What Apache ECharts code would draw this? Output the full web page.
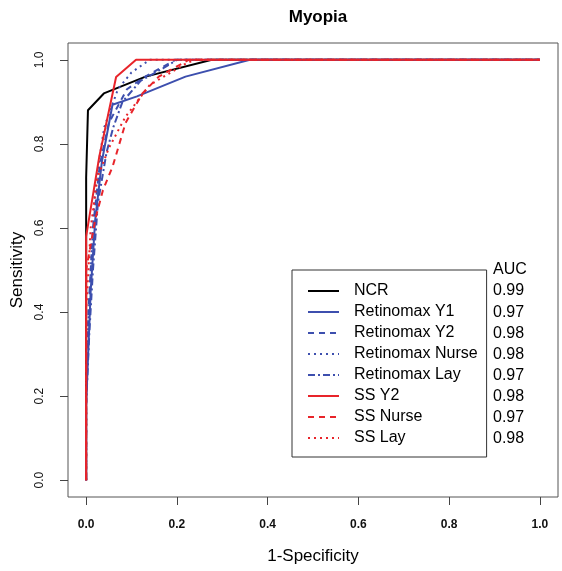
<!DOCTYPE html>
<html><head><meta charset="utf-8">
<script src="https://cdn.jsdelivr.net/npm/echarts@6/dist/echarts.min.js"></script>
<style>html,body{margin:0;padding:0;background:#fff}#c{width:562px;height:571px}</style>
</head><body><div id="c"></div>
<script>
// ---- data ----
const chartTitle = 'Myopia';
const xTicks = [0, 0.2, 0.4, 0.6, 0.8, 1.0];
const yTicks = [0, 0.2, 0.4, 0.6, 0.8, 1.0];
const seriesNames = ['NCR', 'Retinomax Y1', 'Retinomax Y2', 'Retinomax Nurse', 'Retinomax Lay', 'SS Y2', 'SS Nurse', 'SS Lay'];
const aucValues = ['0.99', '0.97', '0.98', '0.98', '0.97', '0.98', '0.97', '0.98'];
// ROC points [1-specificity, sensitivity]
const ncr = [[0,0],[0,0.72],[0.004,0.88],[0.039,0.92],[0.131,0.96],[0.277,1],[1,1]];
const retY1 = [[0,0],[0,0.18],[0.01,0.45],[0.02,0.62],[0.035,0.76],[0.058,0.893],[0.112,0.913],[0.219,0.96],[0.361,1],[1,1]];
const retY2 = [[0,0],[0,0.2],[0.005,0.4],[0.015,0.6],[0.03,0.75],[0.05,0.85],[0.09,0.93],[0.13,0.96],[0.197,1],[1,1]];
const retNurse = [[0,0],[0,0.25],[0.01,0.5],[0.02,0.7],[0.04,0.84],[0.07,0.93],[0.1,0.97],[0.14,1],[1,1]];
const retLay = [[0,0],[0,0.18],[0.007,0.35],[0.015,0.5],[0.026,0.66],[0.045,0.78],[0.06,0.84],[0.08,0.9],[0.12,0.95],[0.17,0.98],[0.2,1],[1,1]];
const ssY2 = [[0,0],[0,0.58],[0.029,0.77],[0.066,0.959],[0.11,1],[1,1]];
const ssNurse = [[0,0],[0,0.5],[0.02,0.62],[0.037,0.69],[0.058,0.745],[0.087,0.85],[0.124,0.92],[0.16,0.96],[0.226,1],[1,1]];
const ssLay = [[0,0],[0,0.4],[0.01,0.6],[0.025,0.72],[0.05,0.79],[0.087,0.865],[0.14,0.94],[0.218,0.99],[0.24,1],[1,1]];

// ---- styles ----
const BLUE = '#3d4fae', RED = '#e8242a', BLACK = '#000';
const styles = [
  {color: BLACK, type: 'solid'},
  {color: BLUE, type: 'solid'},
  {color: BLUE, type: [6, 5]},
  {color: BLUE, type: [2, 4]},
  {color: BLUE, type: [7, 3, 2, 3]},
  {color: RED, type: 'solid'},
  {color: RED, type: [6, 5]},
  {color: RED, type: [2, 4]}
];
const allData = [ncr, retY1, retY2, retNurse, retLay, ssY2, ssNurse, ssLay];

const FONT = 'Liberation Sans, Arial, sans-serif';
const chart = echarts.init(document.getElementById('c'), null, {renderer: 'canvas'});

const rowY0 = 292, rowStep = 21.1;
const graphics = [{
  type: 'text', left: 493, top: 262,
  style: {text: 'AUC', font: '16px ' + FONT, fill: '#000'}
}];
aucValues.forEach((v, i) => {
  graphics.push({type: 'text', left: 493, top: rowY0 + i * rowStep - 9,
    style: {text: v, font: '16px ' + FONT, fill: '#000'}});
});

chart.setOption({
  animation: false,
  backgroundColor: '#fff',
  title: {
    text: chartTitle, left: 313, top: 4, textAlign: 'center',
    textStyle: {fontFamily: FONT, fontSize: 17, fontWeight: 'bold', color: '#000'}
  },
  grid: {left: 68, right: 4, top: 43, bottom: 74, outerBoundsMode: 'none', containLabel: false,
    show: true, borderColor: '#555', borderWidth: 1, backgroundColor: 'transparent'},
  xAxis: {
    type: 'value', min: -0.04, max: 1.04,
    name: '1-Specificity', nameLocation: 'middle', nameGap: 51,
    nameTextStyle: {fontFamily: FONT, fontSize: 17, color: '#000'},
    axisLine: {show: false, onZero: false},
    splitLine: {show: false},
    axisTick: {show: true, customValues: xTicks, length: 8, inside: false, lineStyle: {color: '#444'}},
    axisLabel: {customValues: xTicks, formatter: v => v.toFixed(1), margin: 22, fontFamily: FONT, fontSize: 12, fontWeight: 'bold', color: '#111'}
  },
  yAxis: {
    type: 'value', min: -0.04, max: 1.04,
    name: 'Sensitivity', nameLocation: 'middle', nameGap: 41, nameRotate: 90,
    nameTextStyle: {fontFamily: FONT, fontSize: 17, color: '#000'},
    axisLine: {show: false, onZero: false},
    splitLine: {show: false},
    axisTick: {show: true, customValues: yTicks, length: 8, inside: false, lineStyle: {color: '#444'}},
    axisLabel: {customValues: yTicks, formatter: v => v.toFixed(1), rotate: 90, margin: 22, fontFamily: FONT, fontSize: 12, color: '#111'}
  },
  legend: {
    orient: 'vertical', left: 292, top: 270,
    data: seriesNames,
    itemWidth: 31, itemHeight: 16, itemGap: 5,
    padding: [13, 9, 11, 15],
    borderColor: '#333', borderWidth: 1, backgroundColor: '#fff',
    selectedMode: false,
    itemStyle: {opacity: 0},
    textStyle: {fontFamily: FONT, fontSize: 16, color: '#000', lineHeight: 16, padding: [0, 0, 0, 10]}
  },
  graphic: graphics,
  series: allData.map((d, i) => ({
    name: seriesNames[i], type: 'line', data: d, symbol: 'none', z: 2 + i,
    lineStyle: {color: styles[i].color, width: 2, type: styles[i].type},
    itemStyle: {color: styles[i].color}
  }))
});
</script></body></html>
